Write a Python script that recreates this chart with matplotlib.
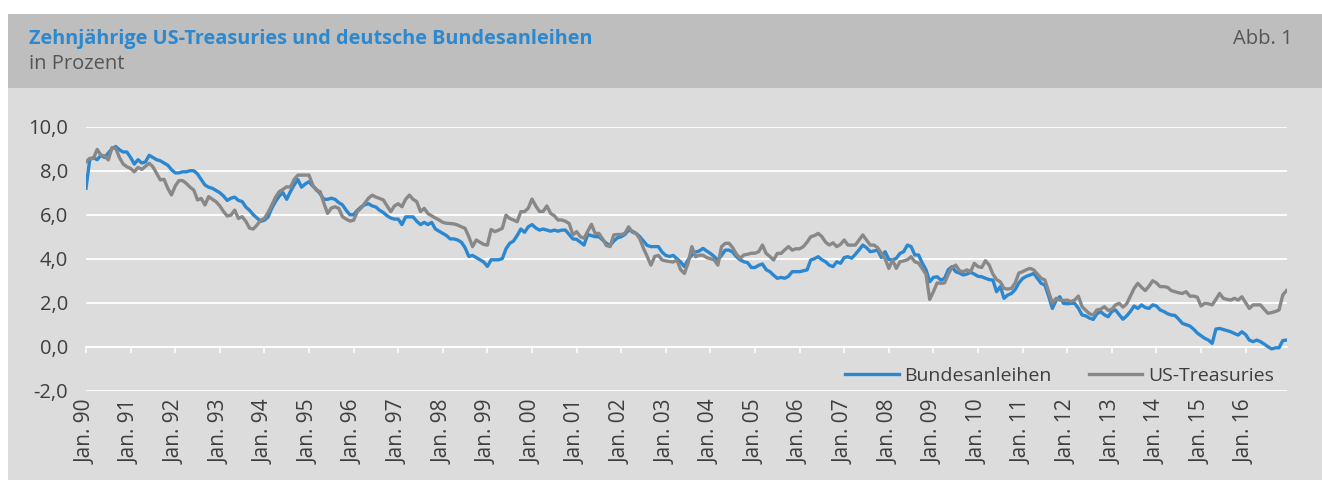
import numpy as np
import matplotlib
matplotlib.use("Agg")
import matplotlib.pyplot as plt
from matplotlib.patches import Rectangle

plt.rcParams['font.family'] = ['Open Sans', 'DejaVu Sans']

# ---------------- data ----------------
years = list(range(1990, 2017))
tick_labels = ["Jan. %02d" % (y % 100) for y in years]
y_ticks = [-2, 0, 2, 4, 6, 8, 10]
y_tick_labels = ["-2,0", "0,0", "2,0", "4,0", "6,0", "8,0", "10,0"]

# Zehnjährige Bundesanleihen, monthly, Jan 1990 - Dec 2016 (in %)
bund = [
    7.2, 8.5, 8.6, 8.5, 8.7, 8.6, 8.8, 9.0, 9.1, 8.95, 8.85, 8.85,          # 1990
    8.6, 8.3, 8.5, 8.35, 8.4, 8.7, 8.6, 8.5, 8.45, 8.35, 8.25, 8.05,       # 1991
    7.9, 7.9, 7.95, 7.95, 8.0, 8.0, 7.85, 7.6, 7.35, 7.25, 7.2, 7.1,       # 1992
    7.0, 6.85, 6.65, 6.75, 6.8, 6.65, 6.6, 6.35, 6.2, 6.0, 5.85, 5.7,      # 1993
    5.75, 5.9, 6.3, 6.6, 6.85, 7.0, 6.7, 7.05, 7.35, 7.6, 7.25, 7.4,       # 1994
    7.5, 7.3, 7.15, 6.95, 6.7, 6.7, 6.75, 6.7, 6.55, 6.45, 6.2, 6.0,       # 1995
    6.0, 6.2, 6.35, 6.45, 6.5, 6.4, 6.35, 6.2, 6.1, 5.95, 5.85, 5.8,       # 1996
    5.8, 5.55, 5.9, 5.9, 5.9, 5.7, 5.55, 5.65, 5.55, 5.65, 5.35, 5.25,     # 1997
    5.15, 5.05, 4.9, 4.9, 4.85, 4.75, 4.5, 4.1, 4.15, 4.05, 3.95, 3.85,    # 1998
    3.65, 3.95, 3.95, 3.95, 4.0, 4.45, 4.7, 4.8, 5.05, 5.35, 5.2, 5.45,    # 1999
    5.55, 5.4, 5.3, 5.35, 5.3, 5.25, 5.3, 5.25, 5.3, 5.3, 5.1, 4.9,        # 2000
    4.88, 4.75, 4.62, 5.1, 5.05, 5.0, 5.0, 4.85, 4.7, 4.6, 4.8, 4.95,      # 2001
    5.0, 5.1, 5.3, 5.25, 5.15, 5.0, 4.8, 4.6, 4.55, 4.55, 4.55, 4.3,       # 2002
    4.15, 4.1, 4.15, 4.0, 3.85, 3.64, 3.95, 4.16, 4.3, 4.35, 4.47, 4.35,   # 2003
    4.24, 4.1, 3.94, 4.15, 4.39, 4.39, 4.3, 4.09, 3.95, 3.86, 3.82, 3.6,   # 2004
    3.6, 3.7, 3.76, 3.5, 3.41, 3.25, 3.11, 3.15, 3.11, 3.2, 3.41, 3.41,    # 2005
    3.41, 3.45, 3.49, 3.94, 4.0, 4.09, 3.95, 3.86, 3.7, 3.64, 3.86, 3.79,  # 2006
    4.05, 4.09, 4.02, 4.2, 4.4, 4.62, 4.5, 4.32, 4.35, 4.39, 4.05, 4.32,   # 2007
    3.97, 3.94, 4.02, 4.24, 4.32, 4.62, 4.55, 4.17, 4.17, 3.8, 3.5, 2.95,  # 2008
    3.15, 3.18, 3.03, 3.1, 3.5, 3.64, 3.41, 3.35, 3.26, 3.3, 3.38, 3.3,    # 2009
    3.2, 3.18, 3.11, 3.05, 3.03, 2.5, 2.73, 2.2, 2.35, 2.42, 2.6, 2.9,     # 2010
    3.1, 3.2, 3.26, 3.33, 3.1, 2.88, 2.8, 2.3, 1.74, 2.1, 2.27, 1.97,      # 2011
    1.95, 1.97, 1.97, 1.75, 1.44, 1.4, 1.3, 1.24, 1.5, 1.59, 1.45, 1.36,   # 2012
    1.6, 1.67, 1.45, 1.25, 1.4, 1.6, 1.85, 1.74, 1.9, 1.78, 1.74, 1.9,     # 2013
    1.85, 1.67, 1.6, 1.5, 1.44, 1.42, 1.25, 1.06, 1.0, 0.94, 0.8, 0.62,    # 2014
    0.5, 0.38, 0.3, 0.15, 0.8, 0.83, 0.78, 0.73, 0.68, 0.6, 0.53, 0.68,    # 2015
    0.55, 0.3, 0.23, 0.3, 0.23, 0.12, 0.0, -0.1, -0.05, -0.05, 0.28, 0.3,  # 2016
]

# Zehnjährige US-Treasuries, monthly, Jan 1990 - Dec 2016 (in %)
ust = [
    8.4, 8.56, 8.56, 8.97, 8.71, 8.67, 8.49, 9.05, 9.01, 8.6, 8.3, 8.18,   # 1990
    8.1, 7.95, 8.15, 8.06, 8.2, 8.34, 8.18, 7.88, 7.58, 7.61, 7.2, 6.9,    # 1991
    7.3, 7.55, 7.55, 7.42, 7.25, 7.12, 6.67, 6.74, 6.44, 6.82, 6.7, 6.59,  # 1992
    6.4, 6.14, 5.94, 5.98, 6.21, 5.83, 5.91, 5.7, 5.39, 5.35, 5.53, 5.75,  # 1993
    5.83, 6.1, 6.44, 6.8, 7.05, 7.15, 7.27, 7.25, 7.6, 7.8, 7.8, 7.8,      # 1994
    7.8, 7.35, 7.1, 7.05, 6.52, 6.06, 6.3, 6.36, 6.29, 5.91, 5.8, 5.71,    # 1995
    5.75, 6.14, 6.3, 6.52, 6.75, 6.89, 6.8, 6.74, 6.67, 6.4, 6.14, 6.4,    # 1996
    6.5, 6.36, 6.7, 6.89, 6.7, 6.59, 6.14, 6.29, 6.05, 5.95, 5.85, 5.76,   # 1997
    5.65, 5.61, 5.6, 5.58, 5.53, 5.45, 5.38, 5.0, 4.55, 4.85, 4.75, 4.65,  # 1998
    4.62, 5.33, 5.23, 5.3, 5.38, 5.98, 5.83, 5.76, 5.68, 6.14, 6.14, 6.3,  # 1999
    6.71, 6.4, 6.15, 6.15, 6.4, 6.06, 5.95, 5.76, 5.76, 5.7, 5.6, 5.08,    # 2000
    5.23, 5.0, 4.93, 5.25, 5.56, 5.15, 5.15, 4.9, 4.6, 4.55, 5.08, 5.1,    # 2001
    5.1, 5.15, 5.45, 5.2, 5.15, 4.9, 4.47, 4.1, 3.71, 4.1, 4.15, 3.94,     # 2002
    3.9, 3.87, 3.85, 3.94, 3.5, 3.33, 3.8, 4.55, 4.09, 4.16, 4.16, 4.05,   # 2003
    4.0, 3.95, 3.71, 4.55, 4.7, 4.7, 4.5, 4.2, 4.02, 4.17, 4.2, 4.25,      # 2004
    4.25, 4.32, 4.62, 4.24, 4.1, 3.94, 4.24, 4.24, 4.4, 4.55, 4.39, 4.45,  # 2005
    4.45, 4.55, 4.75, 5.0, 5.05, 5.15, 5.0, 4.75, 4.62, 4.72, 4.55, 4.65,  # 2006
    4.85, 4.62, 4.62, 4.62, 4.85, 5.08, 4.85, 4.62, 4.62, 4.5, 4.25, 4.0,  # 2007
    3.56, 3.94, 3.56, 3.86, 3.9, 3.95, 4.09, 3.86, 3.8, 3.55, 3.3, 2.15,   # 2008
    2.5, 2.9, 2.88, 2.9, 3.3, 3.6, 3.71, 3.45, 3.41, 3.49, 3.41, 3.79,     # 2009
    3.64, 3.6, 3.91, 3.71, 3.3, 3.05, 2.95, 2.65, 2.62, 2.65, 2.9, 3.35,   # 2010
    3.41, 3.5, 3.56, 3.49, 3.3, 3.11, 3.03, 2.5, 1.97, 2.2, 2.12, 2.1,     # 2011
    2.12, 2.05, 2.12, 2.3, 1.82, 1.65, 1.5, 1.44, 1.67, 1.7, 1.82, 1.65,   # 2012
    1.7, 1.9, 1.97, 1.8, 1.95, 2.3, 2.65, 2.88, 2.7, 2.55, 2.75, 3.0,      # 2013
    2.9, 2.73, 2.73, 2.7, 2.55, 2.5, 2.45, 2.42, 2.5, 2.3, 2.3, 2.25,      # 2014
    1.85, 1.97, 1.95, 1.9, 2.15, 2.42, 2.2, 2.15, 2.12, 2.2, 2.12, 2.27,   # 2015
    2.0, 1.74, 1.9, 1.9, 1.9, 1.7, 1.52, 1.55, 1.6, 1.67, 2.35, 2.55,      # 2016
]

series_labels = ["Bundesanleihen", "US-Treasuries"]
title = "Zehnjährige US-Treasuries und deutsche Bundesanleihen"
subtitle = "in Prozent"
fig_no = "Abb. 1"

# ---------------- styles ----------------
BLUE = "#2A87D0"
GREY = "#888888"
TXT = "#3E3E3E"
W, H = 1322, 480

months = np.arange(len(bund))
tick_pos = months[::12]

fig = plt.figure(figsize=(W / 100, H / 100), dpi=100)
fig.patch.set_facecolor("white")
fig.add_artist(Rectangle((8 / W, 0), 1 - 8 / W, (H - 88) / H, transform=fig.transFigure,
                         facecolor="#DCDCDC", edgecolor="none", zorder=-10))
fig.add_artist(Rectangle((8 / W, (H - 88) / H), 1 - 8 / W, 74 / H, transform=fig.transFigure,
                         facecolor="#BEBEBE", edgecolor="none", zorder=-10))

ax = fig.add_axes([86 / W, 1 - 390.7 / H, (1286.5 - 86) / W, 264 / H])
ax.set_facecolor("none")

ax.plot(months, bund, color=BLUE, lw=2.4, label=series_labels[0], zorder=3,
        solid_joinstyle="round")
ax.plot(months, ust, color=GREY, lw=2.4, label=series_labels[1], zorder=4,
        solid_joinstyle="round")

ax.set_xlim(months[0], months[-1])
ax.set_ylim(y_ticks[0], y_ticks[-1])

ax.set_yticks(y_ticks, y_tick_labels)
ax.yaxis.grid(True, color="white", lw=1.3)
ax.set_axisbelow(True)
ax.tick_params(axis="y", length=0, pad=13, labelsize=14.5, labelcolor=TXT)

for s in ["top", "right", "left"]:
    ax.spines[s].set_visible(False)
ax.spines["bottom"].set_position(("data", 0))
ax.spines["bottom"].set_color("white")
ax.spines["bottom"].set_linewidth(1.3)

ax.set_xticks(tick_pos)
ax.tick_params(axis="x", direction="out", length=4.5, width=1.1, color="white",
               labelbottom=False)

sec = ax.secondary_xaxis("bottom")
sec.set_xticks(tick_pos, tick_labels, rotation=90)
sec.tick_params(length=0, pad=6, labelsize=15, labelcolor=TXT)
sec.spines["bottom"].set_visible(False)

leg = ax.legend(loc="center right", bbox_to_anchor=(1274 / W, 1 - 376 / H),
                bbox_transform=fig.transFigure, ncol=2, frameon=False, fontsize=14,
                handlelength=2.75, handletextpad=0.3, columnspacing=1.9,
                borderpad=0, borderaxespad=0)
for t in leg.get_texts():
    t.set_color(TXT)

fig.text(29 / W, 1 - 44 / H, title, color="#2C88CF", fontsize=14.3, fontweight="bold",
         va="baseline", ha="left")
fig.text(29 / W, 1 - 69 / H, subtitle, color="#555555", fontsize=14.5,
         va="baseline", ha="left")
fig.text(1293 / W, 1 - 44 / H, fig_no, color="#555555", fontsize=14.5,
         va="baseline", ha="right")

fig.savefig("out.png", dpi=100)
